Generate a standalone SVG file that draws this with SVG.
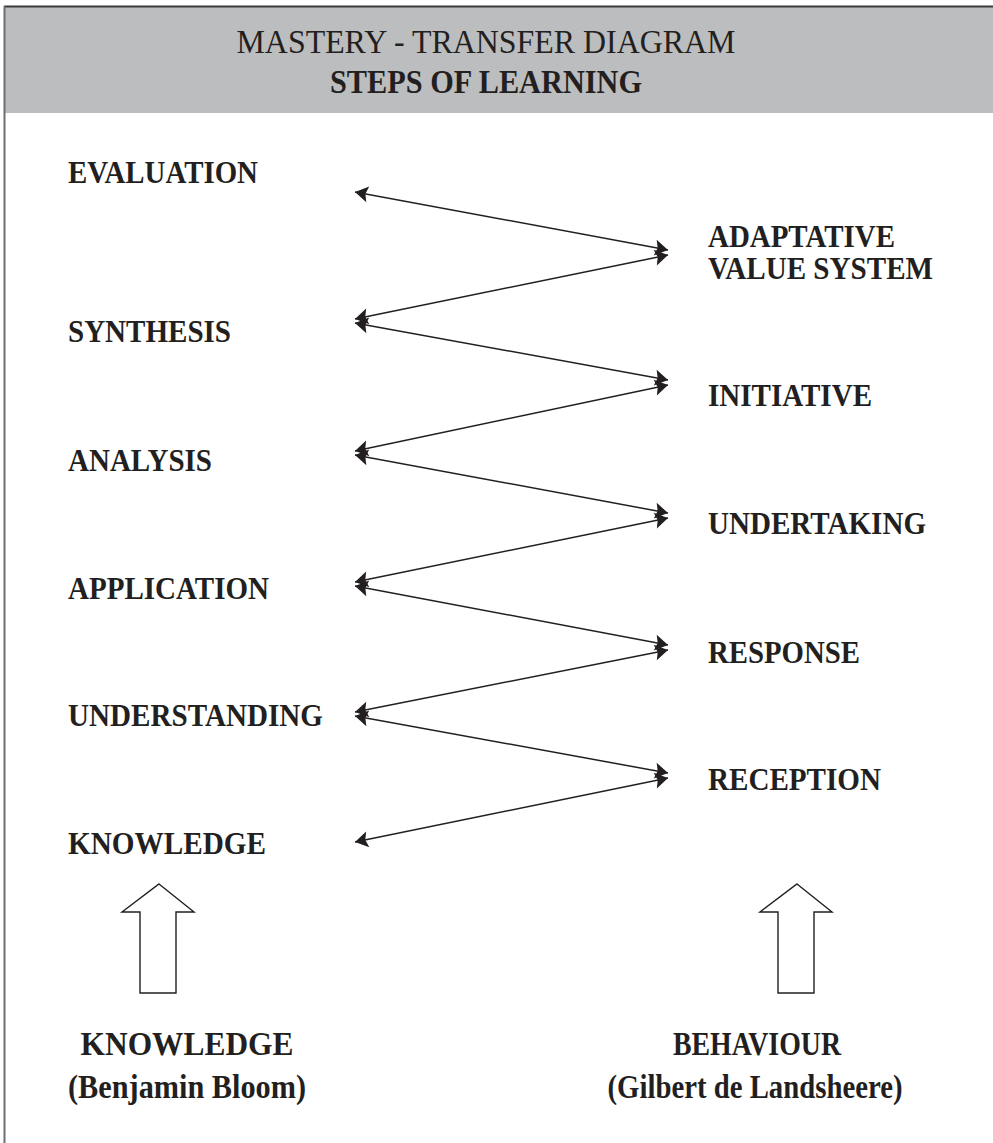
<svg xmlns="http://www.w3.org/2000/svg" width="993" height="1143" viewBox="0 0 993 1143">
  <style>
    .t { font-family: "Liberation Serif", "Times New Roman", serif; fill: #231f20; }
    .lbl { font-size: 31px; font-weight: bold; }
    .foot { font-size: 34px; font-weight: bold; text-anchor: middle; }
    .head { font-size: 34px; text-anchor: middle; }
    .link { stroke: #231f20; stroke-width: 1.5; fill: none; marker-start: url(#tip); marker-end: url(#tip); }
    .big { fill: #ffffff; stroke: #231f20; stroke-width: 1.4; stroke-linejoin: miter; }
  </style>
  <defs>
    <marker id="tip" viewBox="-1 -10 16 20" refX="13" refY="0" markerWidth="16" markerHeight="20" markerUnits="userSpaceOnUse" orient="auto-start-reverse">
      <path d="M0,-8 L13,0 L0,8 L2.5,0 Z" fill="#231f20"/>
    </marker>
  </defs>

  <rect width="993" height="1143" fill="#ffffff"/>

  <!-- header band -->
  <g id="header">
    <rect x="4" y="7" width="989" height="106" fill="#bcbdbf"/>
    <line x1="4" y1="6.5" x2="993" y2="6.5" stroke="#3a3a3c" stroke-width="2"/>
    <text class="t head" x="486" y="53" textLength="499" lengthAdjust="spacingAndGlyphs">MASTERY - TRANSFER DIAGRAM</text>
    <text class="t head" x="486" y="93" font-weight="bold" textLength="312" lengthAdjust="spacingAndGlyphs">STEPS OF LEARNING</text>
  </g>
  <!-- left frame edge -->
  <line x1="4.5" y1="6" x2="4.5" y2="1143" stroke="#6d6e71" stroke-width="2"/>

  <!-- knowledge steps (Bloom) -->
  <g id="evaluation"><text class="t lbl" x="68" y="183" textLength="190" lengthAdjust="spacingAndGlyphs">EVALUATION</text></g>
  <g id="synthesis"><text class="t lbl" x="68" y="342" textLength="163" lengthAdjust="spacingAndGlyphs">SYNTHESIS</text></g>
  <g id="analysis"><text class="t lbl" x="68" y="471" textLength="144" lengthAdjust="spacingAndGlyphs">ANALYSIS</text></g>
  <g id="application"><text class="t lbl" x="68" y="599" textLength="201" lengthAdjust="spacingAndGlyphs">APPLICATION</text></g>
  <g id="understanding"><text class="t lbl" x="68" y="726" textLength="255" lengthAdjust="spacingAndGlyphs">UNDERSTANDING</text></g>
  <g id="knowledge"><text class="t lbl" x="68" y="854" textLength="198" lengthAdjust="spacingAndGlyphs">KNOWLEDGE</text></g>

  <!-- behaviour steps (de Landsheere) -->
  <g id="adaptative">
    <text class="t lbl" x="708" y="247" textLength="187" lengthAdjust="spacingAndGlyphs">ADAPTATIVE</text>
    <text class="t lbl" x="708" y="279" textLength="225" lengthAdjust="spacingAndGlyphs">VALUE SYSTEM</text>
  </g>
  <g id="initiative"><text class="t lbl" x="708" y="406" textLength="164" lengthAdjust="spacingAndGlyphs">INITIATIVE</text></g>
  <g id="undertaking"><text class="t lbl" x="708" y="534" textLength="218" lengthAdjust="spacingAndGlyphs">UNDERTAKING</text></g>
  <g id="response"><text class="t lbl" x="708" y="663" textLength="152" lengthAdjust="spacingAndGlyphs">RESPONSE</text></g>
  <g id="reception"><text class="t lbl" x="708" y="790" textLength="173" lengthAdjust="spacingAndGlyphs">RECEPTION</text></g>

  <!-- zig-zag connectors -->
  <g id="connectors">
    <line class="link" x1="355" y1="192" x2="668" y2="250"/>
    <line class="link" x1="668" y1="255" x2="355" y2="319"/>
    <line class="link" x1="355" y1="323" x2="668" y2="380"/>
    <line class="link" x1="668" y1="385" x2="355" y2="451"/>
    <line class="link" x1="355" y1="455" x2="668" y2="513"/>
    <line class="link" x1="668" y1="518" x2="355" y2="582"/>
    <line class="link" x1="355" y1="586" x2="668" y2="645"/>
    <line class="link" x1="668" y1="650" x2="355" y2="712"/>
    <line class="link" x1="355" y1="716" x2="668" y2="773"/>
    <line class="link" x1="668" y1="778" x2="355" y2="842"/>
  </g>

  <!-- outline arrows -->
  <g id="arrow-knowledge">
    <path class="big" d="M159,884 L194,912 L176,912 L176,993 L140,993 L140,912 L122,912 Z"/>
  </g>
  <g id="arrow-behaviour">
    <path class="big" d="M797,884 L832,912 L814,912 L814,993 L778,993 L778,912 L760,912 Z"/>
  </g>

  <!-- column captions -->
  <g id="caption-knowledge">
    <text class="t foot" x="187" y="1055" textLength="213" lengthAdjust="spacingAndGlyphs">KNOWLEDGE</text>
    <text class="t foot" x="187" y="1098" textLength="238" lengthAdjust="spacingAndGlyphs">(Benjamin Bloom)</text>
  </g>
  <g id="caption-behaviour">
    <text class="t foot" x="757" y="1055" textLength="168" lengthAdjust="spacingAndGlyphs">BEHAVIOUR</text>
    <text class="t foot" x="755" y="1098" textLength="295" lengthAdjust="spacingAndGlyphs">(Gilbert de Landsheere)</text>
  </g>
</svg>
